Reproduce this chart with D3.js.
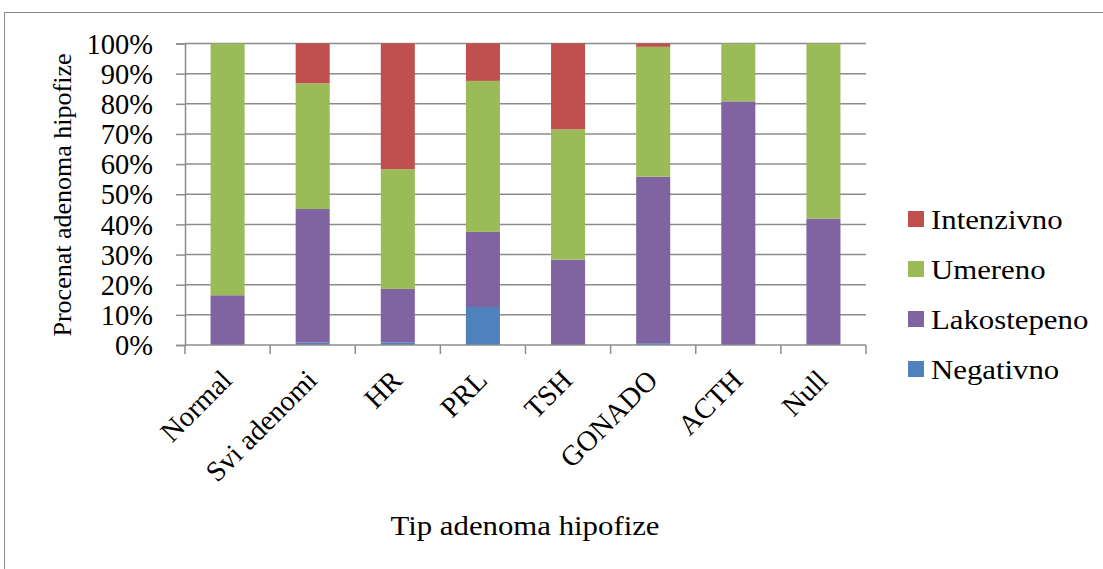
<!DOCTYPE html>
<head>
  <meta charset="UTF-8">
  <title>adenomi</title>
  <style>
  body, html{
    padding: 0;
    margin: 0;
    background: #fff;
  }
  svg text{
    font-family: "Liberation Serif", "Times New Roman", serif;
    fill: #000;
  }
  </style>
</head>
<body>
  <script src="https://cdn.jsdelivr.net/npm/d3@7"></script>
  <script type="text/javascript">
  var width = 1103;
  var height = 569;

  // podaci (procenat)
  var categories = ['Normal', 'Svi adenomi', 'HR', 'PRL', 'TSH', 'GONADO', 'ACTH', 'Null'];
  var negativno   = [0,    0.8,  0.9,  12.6, 0,    0.6,  0,    0];
  var lakostepeno = [16.5, 44.3, 17.7, 24.9, 28.3, 55.2, 80.8, 41.9];
  var umereno     = [83.5, 41.7, 39.7, 50.1, 43.2, 43.1, 19.2, 58.1];
  var intenzivno  = [0,    13.2, 41.7, 12.4, 28.5, 1.1,  0,    0];
  var seriesNames = ['Negativno', 'Lakostepeno', 'Umereno', 'Intenzivno'];
  var seriesColors = ['#4f81bd', '#8064a2', '#9bbb59', '#c0504d'];
  var yTicks = [0, 10, 20, 30, 40, 50, 60, 70, 80, 90, 100];

  var rows = categories.map(function(c, i){
    return {
      cat: c,
      Negativno: negativno[i],
      Lakostepeno: lakostepeno[i],
      Umereno: umereno[i],
      Intenzivno: intenzivno[i]
    };
  });

  var svg = d3.select('body')
    .append('svg')
    .attr('width', width)
    .attr('height', height);

  // okvir
  svg.append('rect')
    .attr('x', 4.5).attr('y', 12.5)
    .attr('width', 1120).attr('height', 580)
    .attr('fill', 'none')
    .attr('stroke', '#8c8c8c')
    .attr('stroke-width', 1);

  var x = d3.scaleBand()
    .domain(categories)
    .range([185, 866])
    .paddingInner(0.6)
    .paddingOuter(0.3);

  var y = d3.scaleLinear()
    .domain([0, 100])
    .range([345, 43.5]);

  // mreza
  svg.append('g')
    .selectAll('line')
    .data(yTicks.slice(1))
    .enter()
    .append('line')
    .attr('x1', 185).attr('x2', 866)
    .attr('y1', function(d){ return y(d); })
    .attr('y2', function(d){ return y(d); })
    .attr('stroke', '#8c8c8c')
    .attr('stroke-width', 1.5);

  var stack = d3.stack().keys(seriesNames);
  var layers = stack(rows);

  svg.append('g')
    .selectAll('g')
    .data(layers)
    .enter()
    .append('g')
    .attr('fill', function(d, i){ return seriesColors[i]; })
    .selectAll('rect')
    .data(function(d){ return d; })
    .enter()
    .append('rect')
    .attr('x', function(d){ return x(d.data.cat); })
    .attr('width', x.bandwidth())
    .attr('y', function(d){ return y(d[1]); })
    .attr('height', function(d){ return y(d[0]) - y(d[1]); });

  // y osa
  var yAxis = d3.axisLeft(y)
    .tickValues(yTicks)
    .tickSize(9)
    .tickPadding(23)
    .tickFormat(function(d){ return d + '%'; });

  var gy = svg.append('g')
    .attr('transform', 'translate(185,0)')
    .call(yAxis);
  gy.select('.domain').attr('stroke', '#8c8c8c').attr('stroke-width', 1.5);
  gy.selectAll('.tick line').attr('stroke', '#8c8c8c').attr('stroke-width', 1.5);
  gy.selectAll('.tick text')
    .attr('font-family', '"Liberation Serif", serif')
    .attr('font-size', 28.5)
    .attr('dy', '0.34em');

  // x osa
  var xEdges = d3.scaleLinear().domain([0, categories.length]).range([185, 866]);
  var gx = svg.append('g');
  gx.append('line')
    .attr('x1', 185).attr('x2', 866)
    .attr('y1', 345).attr('y2', 345)
    .attr('stroke', '#8c8c8c').attr('stroke-width', 1.5);
  gx.selectAll('.xt')
    .data(d3.range(categories.length + 1))
    .enter()
    .append('line')
    .attr('x1', function(d){ return xEdges(d); })
    .attr('x2', function(d){ return xEdges(d); })
    .attr('y1', 345).attr('y2', 354)
    .attr('stroke', '#8c8c8c').attr('stroke-width', 1.5);

  gx.selectAll('text')
    .data(categories)
    .enter()
    .append('text')
    .attr('text-anchor', 'end')
    .attr('font-size', 28.5)
    .attr('transform', function(d){
      var cx = x(d) + x.bandwidth() / 2 + 6;
      return 'translate(' + cx + ',382) rotate(-45)';
    })
    .text(function(d){ return d; });

  // naslovi osa
  svg.append('text')
    .attr('text-anchor', 'middle')
    .attr('font-size', 28)
    .attr('transform', 'translate(525,535) scale(1.1,1)')
    .text('Tip adenoma hipofize');

  svg.append('text')
    .attr('text-anchor', 'middle')
    .attr('font-size', 26)
    .attr('transform', 'translate(71,195) rotate(-90)')
    .text('Procenat adenoma hipofize');

  // legenda
  var legendOrder = ['Intenzivno', 'Umereno', 'Lakostepeno', 'Negativno'];
  var leg = svg.append('g')
    .selectAll('g')
    .data(legendOrder)
    .enter()
    .append('g')
    .attr('transform', function(d, i){ return 'translate(908,' + (219 + i * 50) + ')'; });
  leg.append('rect')
    .attr('x', 0).attr('y', -8)
    .attr('width', 16).attr('height', 16)
    .attr('fill', function(d){ return seriesColors[seriesNames.indexOf(d)]; });
  leg.append('text')
    .attr('transform', 'translate(23,0) scale(1.1,1)')
    .attr('dy', '0.34em')
    .attr('font-size', 28)
    .text(function(d){ return d; });
  </script>
</body>
</html>
